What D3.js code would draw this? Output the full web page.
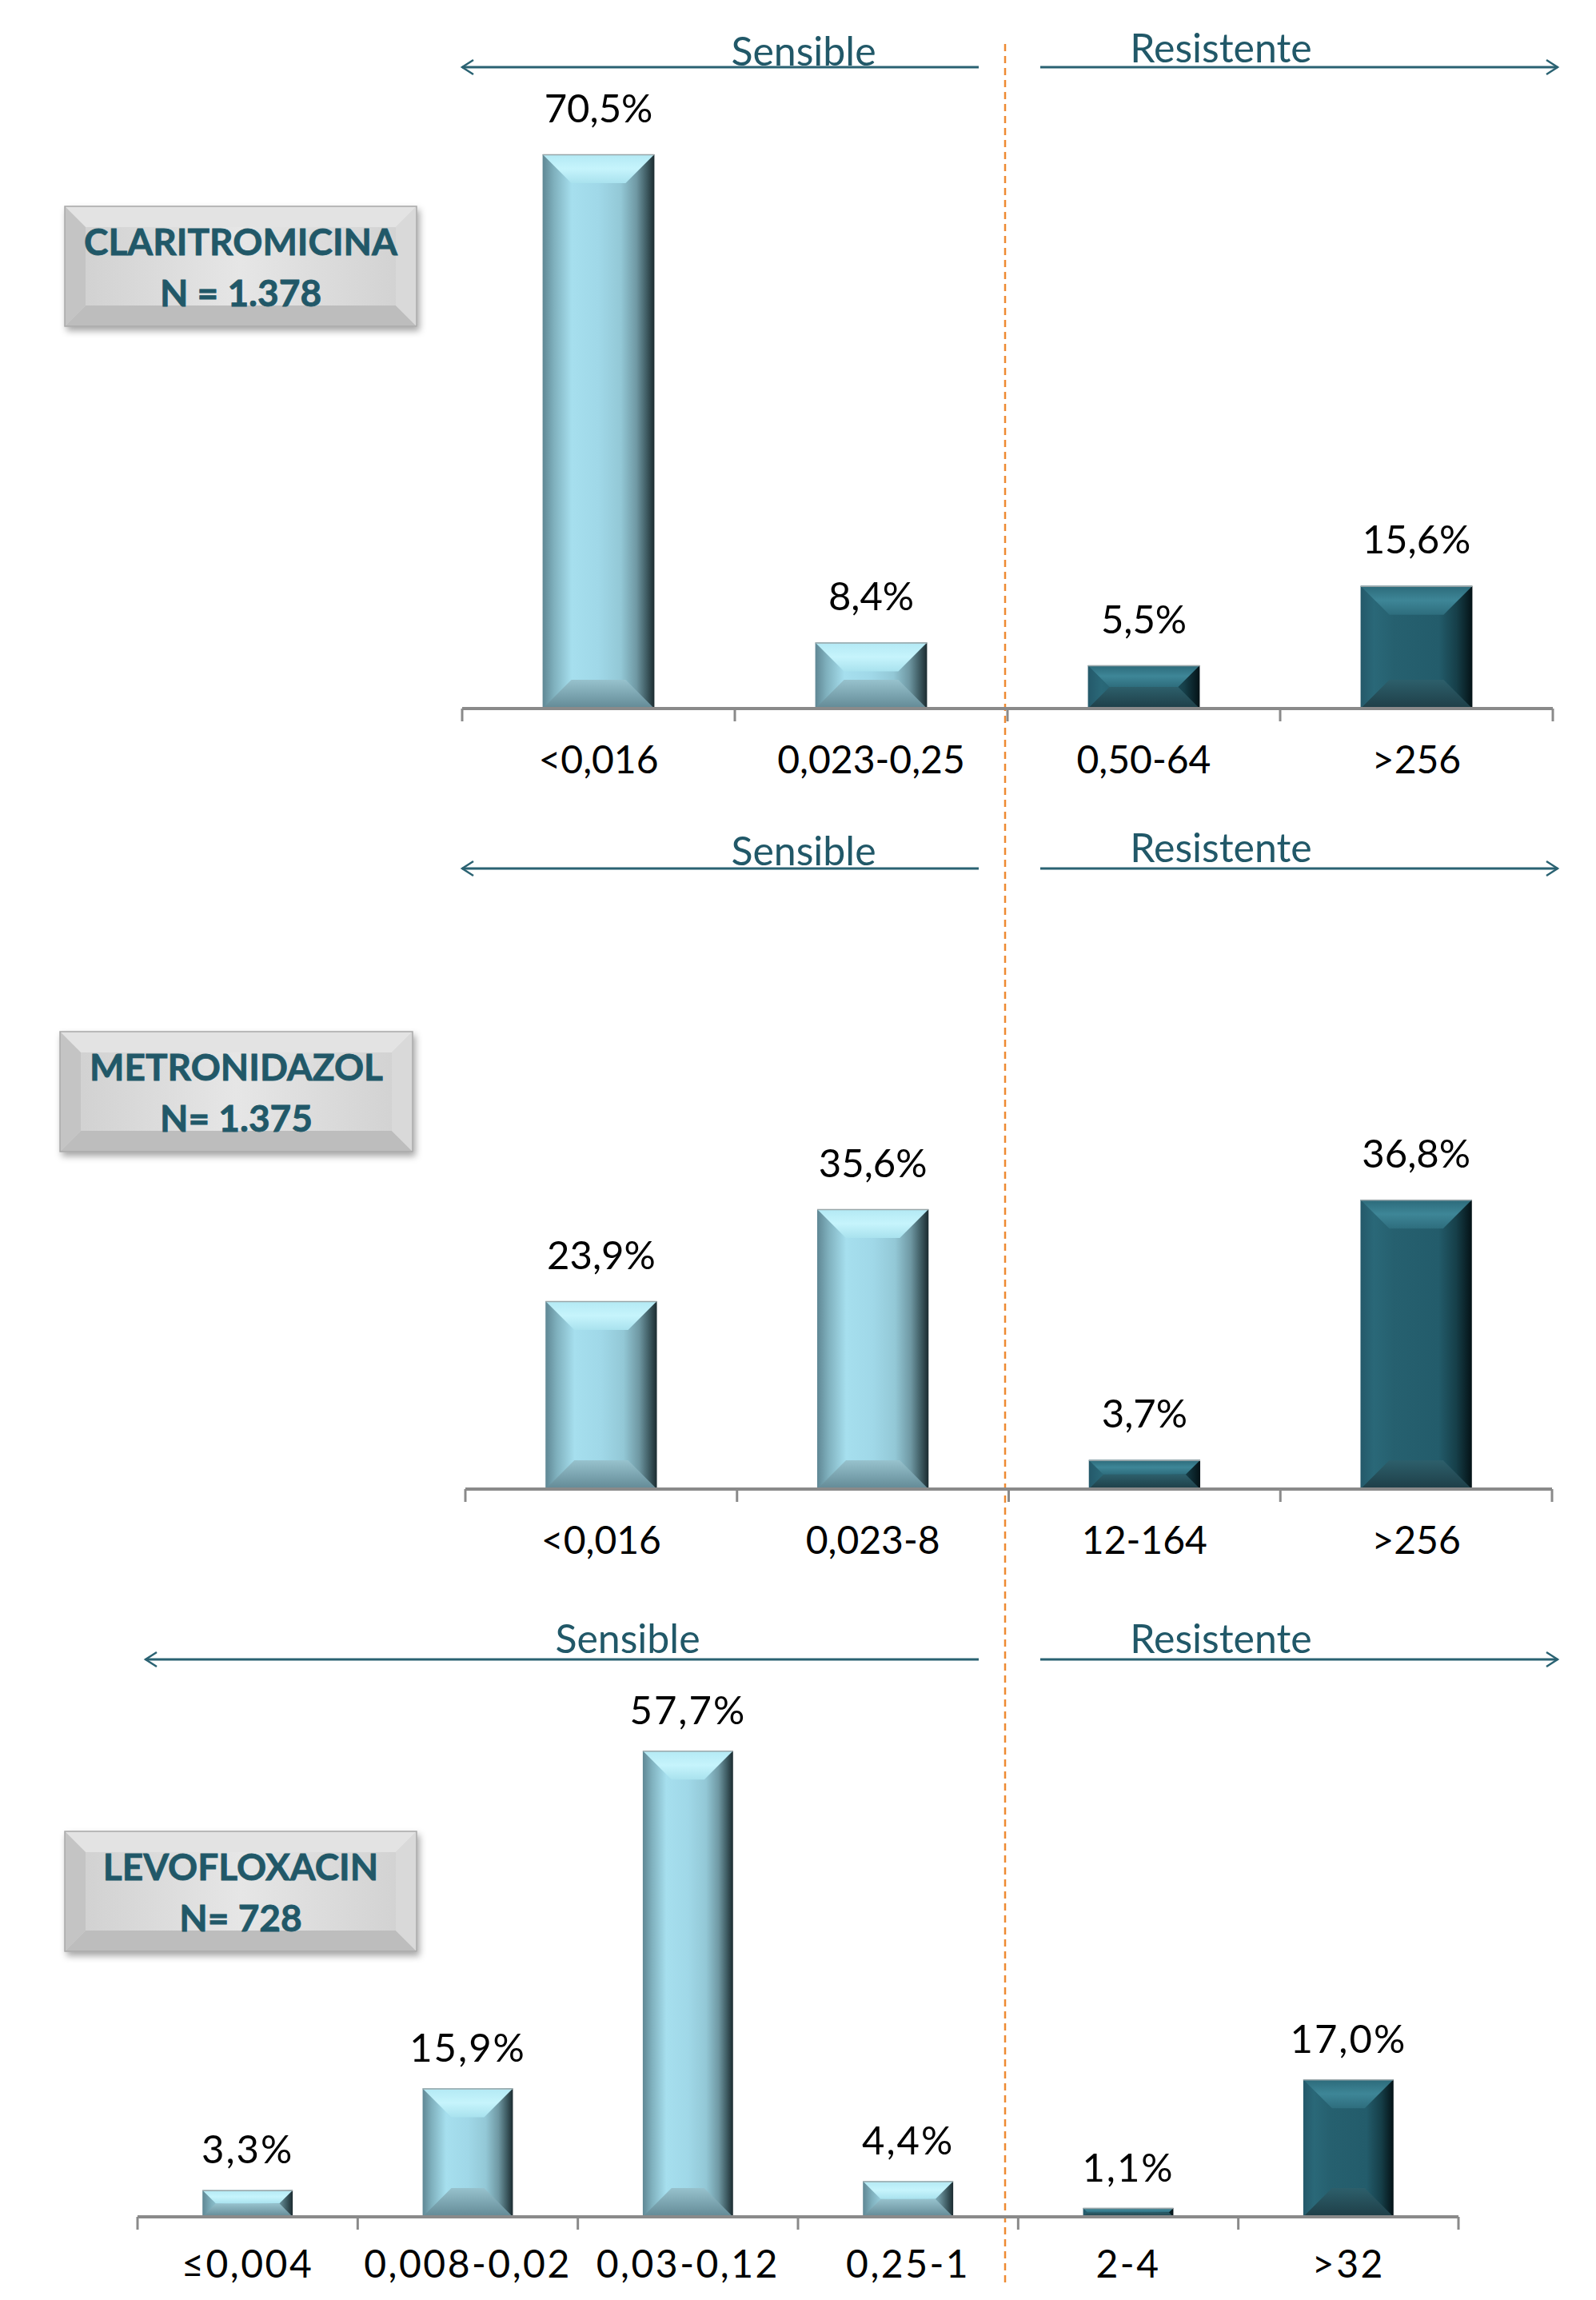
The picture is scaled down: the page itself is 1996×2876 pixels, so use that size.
<!DOCTYPE html>
<html><head><meta charset="utf-8">
<script src="https://cdn.jsdelivr.net/npm/d3@7"></script>
<style>body{margin:0;background:#fff} svg{display:block}</style>
</head><body>
<svg id="chart" width="1996" height="2876"></svg>
<script>
// ---- data ----
const claritroCategories = ["<0,016", "0,023-0,25", "0,50-64", ">256"];
const claritroValues = [70.5, 8.4, 5.5, 15.6];
const metroCategories = ["<0,016", "0,023-8", "12-164", ">256"];
const metroValues = [23.9, 35.6, 3.7, 36.8];
const levoCategories = ["≤0,004", "0,008-0,02", "0,03-0,12", "0,25-1", "2-4", ">32"];
const levoValues = [3.3, 15.9, 57.7, 4.4, 1.1, 17.0];
const sensibleCounts = [2, 2, 4];
const drugNames = ["CLARITROMICINA", "METRONIDAZOL", "LEVOFLOXACIN"];
const sampleLabels = ["N = 1.378", "N= 1.375", "N= 728"];
const zoneLabels = ["Sensible", "Resistente"];

// ---- layout (pixels) ----
const layout = [
  {cats: claritroCategories, vals: claritroValues, axisY: 886, x0: 578, x1: 1942, pxPer: 9.83,
   arrowY: 84, sensX0: 578, sensText: 1005, textY: 64, resTextY: 60, box: [81, 258, 440, 150], labelOff: 58, tickOff: 64, ls: 0},
  {cats: metroCategories, vals: metroValues, axisY: 1862, x0: 582, x1: 1941, pxPer: 9.83,
   arrowY: 1086, sensX0: 578, sensText: 1005, textY: 1064, resTextY: 1060, box: [75, 1290, 441, 150], labelOff: 58, tickOff: 64, ls: 0},
  {cats: levoCategories, vals: levoValues, axisY: 2772, x0: 172, x1: 1824, pxPer: 10.1,
   arrowY: 2075, sensX0: 182, sensText: 785, textY: 2049, resTextY: 2049, box: [81, 2290, 440, 150], labelOff: 51, tickOff: 59, ls: 2}
];
const splitX = 1257, sensX1 = 1224, resX0 = 1301, resX1 = 1948, resText = 1527;
const teal = "#215868";
const font = "Lato, 'Open Sans', sans-serif";

const svg = d3.select("#chart");
const defs = svg.append("defs");

function lin(id, x2, y2, stops) {
  const g = defs.append("linearGradient").attr("id", id)
    .attr("x1", 0).attr("y1", 0).attr("x2", x2).attr("y2", y2);
  stops.forEach(([o, c]) => g.append("stop").attr("offset", o).attr("stop-color", c));
}
lin("lightSide", 1, 0, [[0, "#5f8794"], [0.1, "#7fb0bd"], [0.26, "#a6dfee"], [0.5, "#a0d8e8"], [0.7, "#93c8d6"], [0.84, "#6f98a3"], [0.93, "#3f5c63"], [1, "#1b2b30"]]);
lin("lightTop", 0, 1, [[0, "#b3e9f4"], [0.5, "#c6f4fc"], [1, "#a9e2ee"]]);
lin("lightBot", 0, 1, [[0, "#97c2cd"], [1, "#628995"]]);
lin("darkSide", 1, 0, [[0, "#24596a"], [0.12, "#2a6878"], [0.3, "#26606f"], [0.7, "#235c6b"], [0.86, "#163f49"], [1, "#041216"]]);
lin("darkTop", 0, 1, [[0, "#2c6a7a"], [0.5, "#3e8697"], [1, "#2e6d7d"]]);
lin("darkBot", 0, 1, [[0, "#2d5f6b"], [1, "#1e3e47"]]);
lin("boxMid", 1, 0, [[0, "#cfcfcf"], [0.5, "#e6e6e6"], [1, "#d0d0d0"]]);
const f = defs.append("filter").attr("id", "shadow").attr("x", "-10%").attr("y", "-10%").attr("width", "130%").attr("height", "140%");
f.append("feDropShadow").attr("dx", 3).attr("dy", 5).attr("stdDeviation", 4).attr("flood-color", "#000").attr("flood-opacity", 0.35);

const fmt = v => d3.format(".1f")(v).replace(".", ",") + "%";

// dashed split line
svg.append("line").attr("x1", splitX).attr("x2", splitX).attr("y1", 55).attr("y2", 2855)
  .attr("stroke", "#ee8a33").attr("stroke-width", 2.5).attr("stroke-dasharray", "9,6");

function arrow(g, xa, xb, y, dir) {
  g.append("line").attr("x1", xa).attr("x2", xb).attr("y1", y).attr("y2", y)
    .attr("stroke", "#2a6272").attr("stroke-width", 3);
  const tip = dir < 0 ? xa : xb;
  g.append("path").attr("d", `M${tip - dir * 14},${y - 9}L${tip},${y}L${tip - dir * 14},${y + 9}`)
    .attr("fill", "none").attr("stroke", "#2a6272").attr("stroke-width", 2.5);
}

layout.forEach((p, pi) => {
  const g = svg.append("g");
  const x = d3.scaleBand().domain(p.cats).range([p.x0, p.x1]).paddingInner(0.59).paddingOuter(0.295);
  const maxV = d3.max(p.vals);
  const y = d3.scaleLinear().domain([0, maxV]).range([p.axisY, p.axisY - maxV * p.pxPer]);
  const step = x.step();
  const sc = sensibleCounts[pi];

  // zone arrows + labels
  arrow(g, p.sensX0, sensX1, p.arrowY, -1);
  arrow(g, resX0, resX1, p.arrowY, 1);
  g.append("text").attr("x", p.sensText).attr("y", p.textY).attr("dy", "0.36em")
    .attr("text-anchor", "middle").attr("font-family", font).attr("font-size", 50)
    .attr("fill", teal).text(zoneLabels[0]);
  g.append("text").attr("x", resText).attr("y", p.resTextY).attr("dy", "0.36em")
    .attr("text-anchor", "middle").attr("font-family", font).attr("font-size", 50)
    .attr("fill", teal).text(zoneLabels[1]);

  // bars
  const data = p.cats.map((c, i) => ({c, v: p.vals[i], res: i >= sc}));
  const bars = g.selectAll("g.bar").data(data).join("g").attr("class", "bar");
  bars.each(function (d) {
    const b = d3.select(this);
    const bx = x(d.c), bw = x.bandwidth(), top = y(d.v), h = y(0) - top;
    const bv = Math.min(36, h / 2);
    const pre = d.res ? "dark" : "light";
    b.append("rect").attr("x", bx).attr("y", top).attr("width", bw).attr("height", h)
      .attr("fill", `url(#${pre}Side)`);
    b.append("path").attr("d", `M${bx},${top}L${bx + bw},${top}L${bx + bw - bv},${top + bv}L${bx + bv},${top + bv}Z`)
      .attr("fill", `url(#${pre}Top)`);
    b.append("path").attr("d", `M${bx},${top + h}L${bx + bw},${top + h}L${bx + bw - bv},${top + h - bv}L${bx + bv},${top + h - bv}Z`)
      .attr("fill", `url(#${pre}Bot)`);
    b.append("line").attr("x1", bx).attr("x2", bx + bw).attr("y1", top + 0.5).attr("y2", top + 0.5)
      .attr("stroke", "#9aa6a9").attr("stroke-width", 1.5);
    b.append("text").attr("x", bx + bw / 2).attr("y", top - p.labelOff).attr("dy", "0.36em")
      .attr("text-anchor", "middle").attr("font-family", font).attr("font-size", 49)
      .attr("letter-spacing", p.ls).attr("fill", "#000").text(fmt(d.v));
  });

  // axis
  const ax = g.append("g").attr("transform", `translate(0,${p.axisY + p.tickOff})`)
    .call(d3.axisBottom(x).tickSize(0).tickPadding(0));
  ax.select(".domain").remove();
  ax.selectAll("text").attr("font-family", font).attr("font-size", 48).attr("fill", "#000")
    .attr("letter-spacing", p.ls * 1.25).attr("dy", "0.36em").attr("y", 0);
  g.append("line").attr("x1", p.x0).attr("x2", p.x1).attr("y1", p.axisY).attr("y2", p.axisY)
    .attr("stroke", "#8a8a8a").attr("stroke-width", 4);
  const bounds = p.cats.map(c => x(c) - step * x.paddingInner() / 2).concat([p.x1]);
  bounds[0] = p.x0;
  g.selectAll("line.tick").data(bounds).join("line").attr("class", "tick")
    .attr("x1", d => d).attr("x2", d => d).attr("y1", p.axisY).attr("y2", p.axisY + 16)
    .attr("stroke", "#8a8a8a").attr("stroke-width", 3);

  // label box
  const [bx, by, bw, bh] = p.box, e = 26;
  const bg = g.append("g").attr("filter", "url(#shadow)");
  bg.append("rect").attr("x", bx).attr("y", by).attr("width", bw).attr("height", bh).attr("fill", "url(#boxMid)");
  bg.append("path").attr("d", `M${bx},${by}L${bx + bw},${by}L${bx + bw - e},${by + e}L${bx + e},${by + e}Z`).attr("fill", "#e3e3e3");
  bg.append("path").attr("d", `M${bx},${by + bh}L${bx + bw},${by + bh}L${bx + bw - e},${by + bh - e}L${bx + e},${by + bh - e}Z`).attr("fill", "#bdbdbd");
  bg.append("path").attr("d", `M${bx},${by}L${bx + e},${by + e}L${bx + e},${by + bh - e}L${bx},${by + bh}Z`).attr("fill", "#c4c4c4");
  bg.append("path").attr("d", `M${bx + bw},${by}L${bx + bw - e},${by + e}L${bx + bw - e},${by + bh - e}L${bx + bw},${by + bh}Z`).attr("fill", "#d9d9d9");
  bg.append("rect").attr("x", bx).attr("y", by).attr("width", bw).attr("height", bh)
    .attr("fill", "none").attr("stroke", "#a8a8a8").attr("stroke-width", 1.5);
  [drugNames[pi], sampleLabels[pi]].forEach((t, k) => {
    g.append("text").attr("x", bx + bw / 2).attr("y", by + 44 + k * 64).attr("dy", "0.36em")
      .attr("text-anchor", "middle").attr("font-family", font).attr("font-weight", "bold")
      .attr("font-size", 46).attr("fill", teal).attr("stroke", teal).attr("stroke-width", 0.8).text(t);
  });
});
</script>
</body></html>
